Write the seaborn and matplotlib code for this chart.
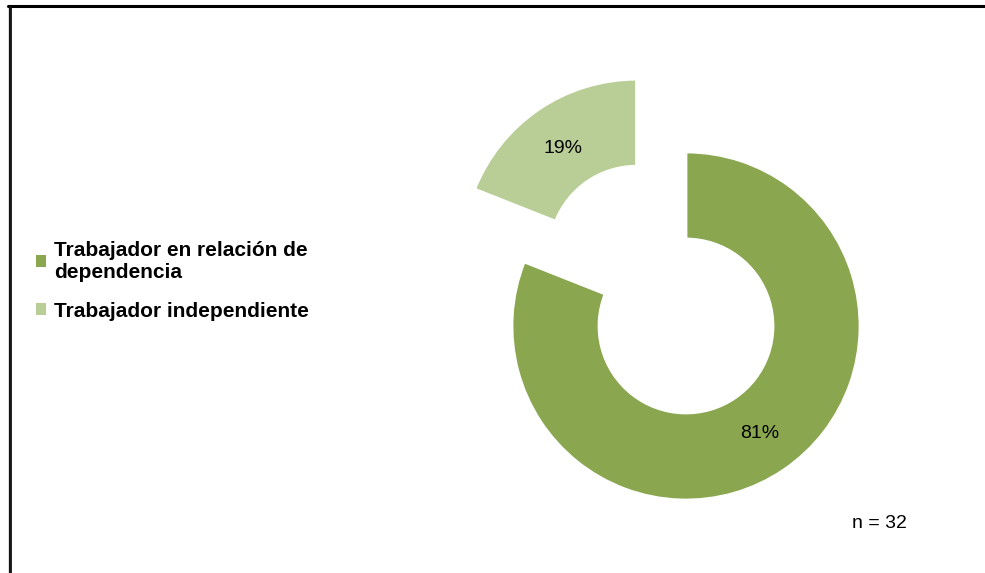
import matplotlib
matplotlib.use("Agg")
import matplotlib.pyplot as plt
from matplotlib.lines import Line2D
import seaborn as sns

# Survey: employment type of respondents
categories = ["Trabajador en relación de\ndependencia", "Trabajador independiente"]
shares = [81, 19]
pct_labels = ["81%", "19%"]
sample_note = "n = 32"
colors = ["#8AA64F", "#B9CE96"]

sns.set_theme(style="white")
plt.rcParams["font.family"] = ["Liberation Sans", "DejaVu Sans"]
plt.rcParams["text.color"] = "black"

W, H = 985, 573
fig = plt.figure(figsize=(W / 100, H / 100), dpi=100)
ax = fig.add_axes([0, 0, 1, 1])

radius = 174
wedges, _, autotexts = ax.pie(
    shares,
    colors=colors,
    center=(686, H - 326),
    radius=radius,
    startangle=90,
    counterclock=False,
    explode=[0, 88],
    autopct=lambda p: f"{p:.0f}%",
    pctdistance=0.75,
    wedgeprops=dict(width=radius * 0.5, edgecolor="white", linewidth=2),
    textprops=dict(fontsize=14, color="black"),
    frame=True,
)
ax.set_xlim(0, W)
ax.set_ylim(0, H)
ax.set_aspect("equal")
ax.axis("off")
for t, lab in zip(autotexts, pct_labels):
    t.set_text(lab)
autotexts[1].set_y(autotexts[1].get_position()[1] - 3)

leg = ax.legend(
    wedges,
    categories,
    loc="upper left",
    bbox_to_anchor=(17, H - 222),
    bbox_transform=ax.transData,
    frameon=False,
    handlelength=0.5,
    handleheight=0.5,
    handletextpad=0.4,
    labelspacing=0.95,
    prop=dict(size=15, weight="bold"),
)
for h in leg.legend_handles:
    h.set_edgecolor("none")
for t in leg.get_texts():
    t.set_color("black")
    t.set_linespacing(1.2)

ax.text(852, H - 523, sample_note, fontsize=14, ha="left", va="center", color="black")

# Outer frame: heavy top rule and double rule on the left
fig.add_artist(Line2D([8 / W, 1], [1 - 6 / H, 1 - 6 / H], color="black", lw=2.2,
                      transform=fig.transFigure))
fig.add_artist(Line2D([8.5 / W, 8.5 / W], [0, 1 - 5 / H], color="black", lw=0.9,
                      transform=fig.transFigure))
fig.add_artist(Line2D([9.7 / W, 9.7 / W], [0, 1 - 6 / H], color="#888888", lw=0.9,
                      transform=fig.transFigure))
fig.add_artist(Line2D([11 / W, 11 / W], [0, 1 - 6 / H], color="black", lw=1.2,
                      transform=fig.transFigure))

fig.savefig("out.png", dpi=100, facecolor="white")
